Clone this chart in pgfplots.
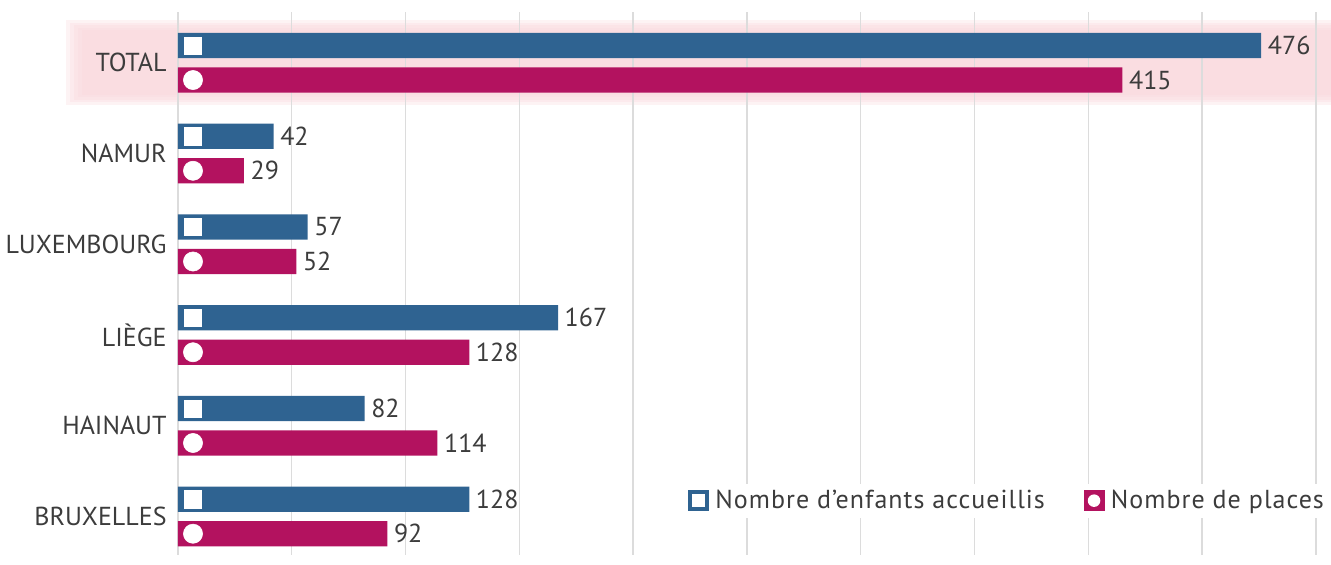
\documentclass[border=0pt]{standalone}
\usepackage{fontspec}
\setmainfont{PT Sans}
\newfontfamily\legfont{PT Sans}[LetterSpace=4]
\usepackage{pgfplots}
\pgfplotsset{compat=1.18}
\definecolor{bluec}{HTML}{2F6391}
\definecolor{redc}{HTML}{B3125F}
\definecolor{pinkc}{HTML}{F9D6DB}
\definecolor{gridc}{HTML}{DCDCDC}
\definecolor{textc}{HTML}{3C3C3C}
\newcommand{\lblfont}{\fontsize{19.5}{23}\selectfont}
\begin{document}
\begin{tikzpicture}
\begin{axis}[
  set layers,
  at={(133.5pt,0pt)}, anchor=south west,
  scale only axis, width=864.75pt, height=407.25pt,
  xmin=0, xmax=506.6, ymin=-0.424, ymax=5.56,
  axis line style={draw=none},
  xtick={0,50,...,500}, xticklabels={},
  xmajorgrids, grid style={gridc, line width=1pt},
  ytick={0,1,2,3,4,5},
  yticklabels={BRUXELLES,HAINAUT,LIÈGE,LUXEMBOURG,NAMUR,TOTAL},
  major tick length=0pt,
  tick label style={font=\lblfont, text=textc},
  yticklabel style={xshift=-5pt},
  clip=false,
  /pgf/number format/assume math mode=true,
  legend columns=2,
  legend cell align=left,
  legend style={at={(1,0.1)}, anchor=east, draw=none, fill=white,
    font=\lblfont\legfont, text=textc, inner sep=3pt,
    /tikz/every even column/.append style={column sep=27pt}},
]
\begin{pgfonlayer}{axis background}
\fill[pinkc, opacity=0.3] (axis cs:-49,4.537) rectangle (axis cs:506.6,5.469);
\fill[pinkc, opacity=0.3] (axis cs:-47.25,4.564) rectangle (axis cs:506.6,5.442);
\fill[pinkc, opacity=0.3] (axis cs:-45.5,4.591) rectangle (axis cs:506.6,5.415);
\fill[pinkc, opacity=0.3] (axis cs:-43.75,4.618) rectangle (axis cs:506.6,5.388);
\fill[pinkc, opacity=0.3] (axis cs:-42,4.645) rectangle (axis cs:506.6,5.361);
\end{pgfonlayer}
\addplot[xbar, bar width=19pt, bar shift=0pt, fill=bluec, draw=none,
  nodes near coords, nodes near coords style={font=\lblfont, text=textc, xshift=1.5pt},
  legend image code/.code={
    \fill[bluec] (0pt,-7.9pt) rectangle (15.75pt,7.9pt);
    \fill[white] (3pt,-4.9pt) rectangle (12.75pt,4.9pt);
    \path (18.5pt,0pt);}]
  coordinates {(476,5.19) (42,4.19) (57,3.19) (167,2.19) (82,1.19) (128,0.19)};
\addlegendentry{Nombre d’enfants accueillis}
\addplot[xbar, bar width=19pt, bar shift=0pt, fill=redc, draw=none,
  nodes near coords, nodes near coords style={font=\lblfont, text=textc, xshift=1.5pt},
  legend image code/.code={
    \fill[redc] (0pt,-7.9pt) rectangle (15.75pt,7.9pt);
    \fill[white] (7.875pt,0pt) circle (4.7pt);
    \path (18.5pt,0pt);}]
  coordinates {(415,4.81) (29,3.81) (52,2.81) (128,1.81) (114,0.81) (92,-0.19)};
\addlegendentry{Nombre de places}
\addplot[white, only marks, mark=square*, mark size=6.5pt, mark options={fill=white, draw=white}, forget plot]
  coordinates {(6.6,5.19) (6.6,4.19) (6.6,3.19) (6.6,2.19) (6.6,1.19) (6.6,0.19)};
\addplot[white, only marks, mark=*, mark size=7.2pt, mark options={fill=white, draw=white}, forget plot]
  coordinates {(6.6,4.81) (6.6,3.81) (6.6,2.81) (6.6,1.81) (6.6,0.81) (6.6,-0.19)};
\end{axis}
\path (0,0) rectangle (998.25pt,416.25pt);
\end{tikzpicture}
\end{document}
